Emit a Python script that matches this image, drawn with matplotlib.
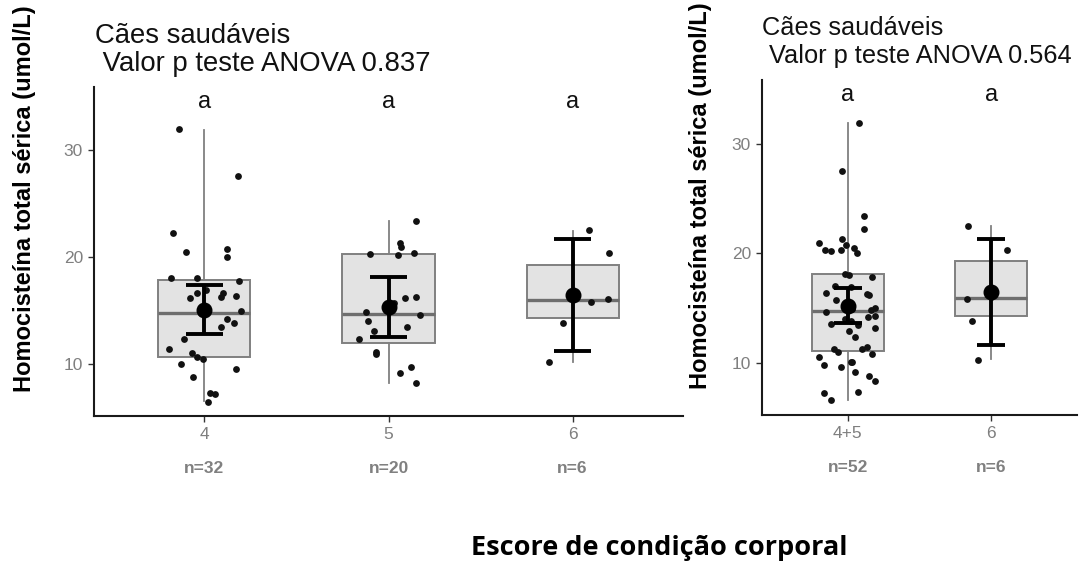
import numpy as np
import matplotlib.pyplot as plt

W, H = 1086, 562

# ---- painel esquerdo: escore 4, 5, 6 ----
cats_a = ['4', '5', '6']
n_a = ['n=32', 'n=20', 'n=6']

pts_4 = [32.0, 27.57, 22.2, 20.44, 20.75, 19.97, 18.0, 18.0, 17.8, 16.6, 16.14,
         16.6, 16.3, 16.36, 14.98, 14.2, 13.86, 13.43, 12.34, 11.37, 11.06, 10.68,
         10.44, 10.0, 9.56, 8.76, 7.32, 7.17, 6.48, 16.9, 15.2, 14.8]
jit_4 = [-0.14, 0.18, -0.17, -0.10, 0.12, 0.12, -0.18, -0.04, 0.19, -0.04, -0.08,
         0.10, 0.09, 0.17, 0.20, 0.12, 0.16, 0.09, -0.11, -0.19, -0.07, -0.04,
         -0.01, -0.13, 0.17, -0.06, 0.03, 0.06, 0.02, 0.01, 0.0, -0.02]

pts_5 = [23.4, 21.28, 20.96, 20.28, 20.19, 20.34, 16.2, 16.3, 15.67, 14.89, 14.55,
         14.05, 13.46, 13.11, 12.37, 11.1, 10.93, 9.75, 9.13, 8.25]
jit_5 = [0.15, 0.06, 0.07, -0.10, 0.05, 0.14, 0.09, 0.15, 0.03, -0.12, 0.17,
         -0.11, 0.10, -0.08, -0.16, -0.07, -0.07, 0.12, 0.06, 0.15]

pts_6 = [22.52, 20.34, 15.79, 16.04, 13.8, 10.19]
jit_6 = [0.09, 0.20, 0.10, 0.19, -0.05, -0.13]

q1_a = [10.62, 12.0, 14.33]
med_a = [14.8, 14.67, 15.95]
q3_a = [17.85, 20.25, 19.22]
lo_a = [6.5, 8.25, 10.2]
hi_a = [31.9, 23.4, 22.46]
mean_a = [15.05, 15.33, 16.45]
cilo_a = [12.8, 12.5, 11.2]
cihi_a = [17.38, 18.16, 21.7]

# ---- painel direito: escore 4+5, 6 ----
cats_b = ['4+5', '6']
n_b = ['n=52', 'n=6']

pts_45 = [31.95, 27.53, 23.41, 22.19, 21.3, 20.97, 20.76, 20.48, 20.3, 20.18, 20.27,
          20.0, 18.11, 18.05, 17.81, 17.0, 16.4, 15.72, 16.27, 16.18, 14.6, 14.81,
          15.02, 14.14, 14.26, 13.53, 13.47, 13.83, 13.14, 12.37, 11.21, 10.94, 11.21,
          11.4, 10.49, 10.76, 9.75, 9.63, 10.05, 10.1, 9.16, 8.79, 8.28, 7.21, 7.34,
          6.58, 16.9, 15.3, 14.9, 15.5, 14.0, 12.9]
jit_45 = [0.08, -0.04, 0.11, 0.11, -0.04, -0.20, -0.01, 0.04, -0.16, -0.12, -0.05,
          0.06, -0.02, 0.01, 0.17, -0.09, -0.15, -0.08, 0.13, 0.15, -0.15, 0.16,
          0.19, 0.14, 0.19, -0.12, 0.07, 0.02, 0.19, 0.05, -0.10, -0.07, 0.10,
          0.13, -0.20, 0.17, -0.17, -0.05, 0.02, 0.03, 0.05, 0.15, 0.19, -0.17, 0.07,
          -0.12, 0.02, -0.01, 0.03, 0.0, -0.02, 0.01]

pts_6b = [22.53, 20.3, 15.82, 13.83, 10.24, 16.04]
jit_6b = [-0.16, 0.11, -0.17, -0.13, -0.09, 0.0]

q1_b = [11.09, 14.3]
med_b = [14.75, 15.94]
q3_b = [18.08, 19.3]
lo_b = [6.58, 10.3]
hi_b = [31.95, 22.5]
mean_b = [15.21, 16.49]
cilo_b = [13.6, 11.63]
cihi_b = [16.85, 21.28]

letters_y = 34.5

fig = plt.figure(figsize=(W / 100, H / 100), dpi=100)
tick_font = ['Liberation Sans Narrow', 'Liberation Sans', 'DejaVu Sans']


def panel(rect, ylim, cats, ns, groups, jits, q1, med, q3, lo, hi, mean, cilo, cihi,
          fs_letter=17):
    ax = fig.add_axes(rect)
    pos = np.arange(1, len(cats) + 1)
    stats = [dict(med=m, q1=a, q3=b, whislo=l, whishi=h, fliers=[])
             for m, a, b, l, h in zip(med, q1, q3, lo, hi)]
    ax.bxp(stats, positions=pos, widths=0.5, patch_artist=True, showcaps=False,
           boxprops=dict(facecolor='#e3e3e3', edgecolor='#808080', linewidth=1.4),
           whiskerprops=dict(color='#808080', linewidth=1.3),
           medianprops=dict(color='#6e6e6e', linewidth=2.4), zorder=1)
    for p, g, j in zip(pos, groups, jits):
        ax.scatter(p + np.array(j), g, s=24, color='#111111', zorder=3, linewidths=0)
    ax.vlines(pos, cilo, cihi, color='black', linewidth=2.8, zorder=4)
    ax.hlines(cilo, pos - 0.1, pos + 0.1, color='black', linewidth=2.8, zorder=4)
    ax.hlines(cihi, pos - 0.1, pos + 0.1, color='black', linewidth=2.8, zorder=4)
    ax.plot(pos, mean, 'o', color='black', markersize=10.5, zorder=5)
    for p in pos:
        ax.text(p, letters_y, 'a', ha='center', va='center', fontsize=fs_letter,
                family='Liberation Sans', color='#111111')
    ax.set_xlim(0.4, len(cats) + 0.6)
    ax.set_ylim(*ylim)
    ax.set_yticks([10, 20, 30])
    ax.set_xticks(pos)
    ax.set_xticklabels(cats)
    for sp in ['top', 'right']:
        ax.spines[sp].set_visible(False)
    for sp in ['left', 'bottom']:
        ax.spines[sp].set_linewidth(1.5)
        ax.spines[sp].set_color('#1a1a1a')
    ax.tick_params(length=4, width=1, color='#333333', labelcolor='#7f7f7f',
                   labelsize=12.5, pad=4)
    for lab in ax.get_xticklabels() + ax.get_yticklabels():
        lab.set_family(tick_font)
    for p, s in zip(pos, ns):
        ax.annotate(s, xy=(p, 0), xycoords=('data', 'axes fraction'),
                    xytext=(0, -38), textcoords='offset points', ha='center', va='center',
                    fontsize=12.5, fontweight='bold', color='#808080', family=tick_font)
    return ax


ax1 = panel([94 / W, 1 - 416 / H, 589 / W, 329 / H], (5.14, 35.89), cats_a, n_a,
            [pts_4, pts_5, pts_6], [jit_4, jit_5, jit_6],
            q1_a, med_a, q3_a, lo_a, hi_a, mean_a, cilo_a, cihi_a)
ax2 = panel([762 / W, 1 - 415 / H, 315 / W, 335 / H], (5.21, 35.86), cats_b, n_b,
            [pts_45, pts_6b], [jit_45, jit_6b],
            q1_b, med_b, q3_b, lo_b, hi_b, mean_b, cilo_b, cihi_b)

# títulos
fig.text(95 / W, 1 - 43 / H, 'Cães saudáveis', fontsize=19.8, family='Liberation Sans',
         va='baseline', color='#111111')
fig.text(95 / W, 1 - 71 / H, ' Valor p teste ANOVA 0.837', fontsize=19.8,
         family='Liberation Sans', va='baseline', color='#111111')
fig.text(762 / W, 1 - 35 / H, 'Cães saudáveis', fontsize=18.3, family='Liberation Sans',
         va='baseline', color='#111111')
fig.text(762 / W, 1 - 63 / H, ' Valor p teste ANOVA 0.564', fontsize=18.3,
         family='Liberation Sans', va='baseline', color='#111111')

ylab = 'Homocisteína total sérica (umol/L)'
fig.text(25 / W, 1 - 199 / H, ylab, rotation=90, ha='center', va='center',
         fontsize=17, fontweight='bold', family='Liberation Sans')
fig.text(700 / W, 1 - 196 / H, ylab, rotation=90, ha='center', va='center',
         fontsize=17, fontweight='bold', family='Liberation Sans')

fig.text(659 / W, 1 - 555 / H, 'Escore de condição corporal', ha='center',
         va='baseline', fontsize=19.5, fontweight='bold', family='Open Sans')

fig.savefig('out.png', dpi=100)
